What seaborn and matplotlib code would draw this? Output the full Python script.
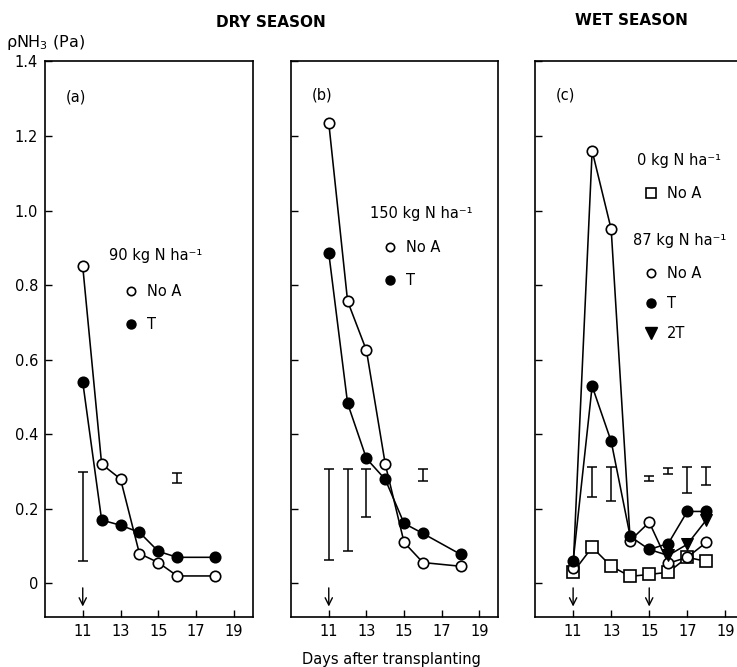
import numpy as np
import pandas as pd
import seaborn as sns
import matplotlib.pyplot as plt
from matplotlib.lines import Line2D

# days after transplanting
days_dry = [11, 12, 13, 14, 15, 16, 18]
days_wet = [11, 12, 13, 14, 15, 16, 17, 18]
days_2t = [15, 16, 17, 18]

# (a) dry season, 90 kg N/ha
a_noa = [0.85, 0.32, 0.28, 0.08, 0.056, 0.02, 0.02]
a_t = [0.54, 0.17, 0.156, 0.137, 0.086, 0.07, 0.07]

# (b) dry season, 150 kg N/ha
b_noa = [1.235, 0.757, 0.625, 0.32, 0.11, 0.056, 0.046]
b_t = [0.886, 0.483, 0.335, 0.279, 0.161, 0.134, 0.078]

# (c) wet season, 0 and 87 kg N/ha
c_zero_noa = [0.03, 0.097, 0.046, 0.019, 0.024, 0.03, 0.07, 0.059]
c_noa = [0.04, 1.16, 0.95, 0.115, 0.164, 0.054, 0.07, 0.11]
c_t = [0.059, 0.529, 0.381, 0.126, 0.091, 0.107, 0.193, 0.193]
c_2t = [0.091, 0.075, 0.105, 0.17]

# LSD bars: day, lower end, upper end
a_bar_day = [11, 16]
a_bar_lo = [0.06, 0.268]
a_bar_hi = [0.298, 0.295]
b_bar_day = [11, 12, 13, 16]
b_bar_lo = [0.064, 0.086, 0.177, 0.274]
b_bar_hi = [0.306, 0.306, 0.306, 0.306]
c_bar_day = [12, 13, 15, 16, 17, 18]
c_bar_lo = [0.231, 0.22, 0.274, 0.293, 0.242, 0.263]
c_bar_hi = [0.311, 0.311, 0.287, 0.309, 0.311, 0.311]

# days of application (arrows)
a_arrows = [11]
b_arrows = [11]
c_arrows = [11, 15]

y_ticks = [0, 0.2, 0.4, 0.6, 0.8, 1.0, 1.2, 1.4]
y_tick_labels = ['0', '0.2', '0.4', '0.6', '0.8', '1.0', '1.2', '1.4']
x_ticks = [11, 13, 15, 17, 19]

sns.set_style('ticks')
plt.rcParams['font.family'] = ['DejaVu Sans']
plt.rcParams['font.size'] = 10.5
for key in ['text.color', 'axes.labelcolor', 'xtick.color', 'ytick.color', 'axes.edgecolor']:
    plt.rcParams[key] = 'black'

fig = plt.figure(figsize=(7.37, 6.67), dpi=100)
ax_a = fig.add_axes([0.061, 0.075, 0.282, 0.833])
ax_b = fig.add_axes([0.395, 0.075, 0.281, 0.833])
ax_c = fig.add_axes([0.726, 0.075, 0.284, 0.833])

open_kw = dict(color='k', lw=1.15, marker='o', ms=7.5, mfc='white', mec='k', mew=1.2)
fill_kw = dict(color='k', lw=1.15, marker='o', ms=7.5, mfc='k', mec='k', mew=1.2)


def draw_bars(ax, day, lo, hi):
    lo = np.array(lo)
    hi = np.array(hi)
    ax.errorbar(day, (lo + hi) / 2, yerr=(hi - lo) / 2, fmt='none',
                ecolor='k', elinewidth=1.1, capsize=3.6, capthick=1.1)


def draw_arrows(ax, days):
    for d in days:
        ax.annotate('', xy=(d, -0.062), xytext=(d, -0.012),
                    arrowprops=dict(arrowstyle='->', lw=1, color='k',
                                    mutation_scale=13, shrinkA=0, shrinkB=0))


def style_axis(ax, show_y):
    ax.set_xlim(9, 20)
    ax.set_ylim(-0.09, 1.4)
    ax.set_xticks(x_ticks)
    ax.set_yticks(y_ticks)
    ax.set_yticklabels(y_tick_labels)
    ax.tick_params(direction='in', length=5, width=1, labelsize=10.5,
                   labelleft=show_y, pad=5)
    for s in ax.spines.values():
        s.set_linewidth(1.2)
        s.set_visible(True)


def entries(ax, x, y, handles, spacing=1.25):
    return ax.legend(handles=handles, loc='upper left', bbox_to_anchor=(x, y),
                     frameon=False, handlelength=1.0, handletextpad=0.6,
                     labelspacing=spacing, borderpad=0, borderaxespad=0,
                     fontsize=10.5)


def h_open(label):
    return Line2D([], [], ls='none', marker='o', ms=6, mfc='white', mec='k', mew=1.2, label=label)


def h_fill(label):
    return Line2D([], [], ls='none', marker='o', ms=6.5, mfc='k', mec='k', label=label)


def h_sq(label):
    return Line2D([], [], ls='none', marker='s', ms=6.5, mfc='white', mec='k', mew=1.2, label=label)


def h_tri(label):
    return Line2D([], [], ls='none', marker='v', ms=8.5, mfc='k', mec='k', label=label)


# (a)
sns.lineplot(x=days_dry, y=a_noa, ax=ax_a, legend=False, **open_kw)
sns.lineplot(x=days_dry, y=a_t, ax=ax_a, legend=False, **fill_kw)
draw_bars(ax_a, a_bar_day, a_bar_lo, a_bar_hi)
draw_arrows(ax_a, a_arrows)
style_axis(ax_a, True)
ax_a.text(0.1, 0.935, '(a)', transform=ax_a.transAxes, va='center')
ax_a.text(0.31, 0.65, '90 kg N ha⁻¹', transform=ax_a.transAxes, va='center')
entries(ax_a, 0.38, 0.60, [h_open('No A'), h_fill('T')])

# (b)
sns.lineplot(x=days_dry, y=b_noa, ax=ax_b, legend=False, **open_kw)
sns.lineplot(x=days_dry, y=b_t, ax=ax_b, legend=False, **fill_kw)
draw_bars(ax_b, b_bar_day, b_bar_lo, b_bar_hi)
draw_arrows(ax_b, b_arrows)
style_axis(ax_b, False)
ax_b.text(0.1, 0.94, '(b)', transform=ax_b.transAxes, va='center')
ax_b.text(0.38, 0.727, '150 kg N ha⁻¹', transform=ax_b.transAxes, va='center')
entries(ax_b, 0.44, 0.678, [h_open('No A'), h_fill('T')])

# (c)
sns.lineplot(x=days_wet, y=c_zero_noa, ax=ax_c, legend=False, color='k', lw=1.15,
             marker='s', ms=8, mfc='white', mec='k', mew=1.2)
sns.lineplot(x=days_wet, y=c_noa, ax=ax_c, legend=False, **open_kw)
sns.lineplot(x=days_wet, y=c_t, ax=ax_c, legend=False, **fill_kw)
sns.lineplot(x=days_2t, y=c_2t, ax=ax_c, legend=False, color='k', lw=1.15,
             marker='v', ms=8.5, mfc='k', mec='k', markevery=[1, 2, 3])
draw_bars(ax_c, c_bar_day, c_bar_lo, c_bar_hi)
draw_arrows(ax_c, c_arrows)
style_axis(ax_c, False)
ax_c.text(0.1, 0.94, '(c)', transform=ax_c.transAxes, va='center')
ax_c.text(0.488, 0.822, '0 kg N ha⁻¹', transform=ax_c.transAxes, va='center')
leg_c = entries(ax_c, 0.52, 0.776, [h_sq('No A')])
ax_c.add_artist(leg_c)
ax_c.text(0.47, 0.677, '87 kg N ha⁻¹', transform=ax_c.transAxes, va='center')
entries(ax_c, 0.52, 0.632, [h_open('No A'), h_fill('T'), h_tri('2T')], spacing=1.05)

# figure-level text
fig.text(0.367, 0.967, 'DRY SEASON', ha='center', va='center', fontsize=11, fontweight='bold')
fig.text(0.857, 0.970, 'WET SEASON', ha='center', va='center', fontsize=11, fontweight='bold')
fig.text(0.008, 0.936, 'ρNH$_3$ (Pa)', ha='left', va='center', fontsize=11.5)
fig.text(0.531, 0.011, 'Days after transplanting', ha='center', va='center', fontsize=10.5)

fig.savefig('out.png', dpi=100)
